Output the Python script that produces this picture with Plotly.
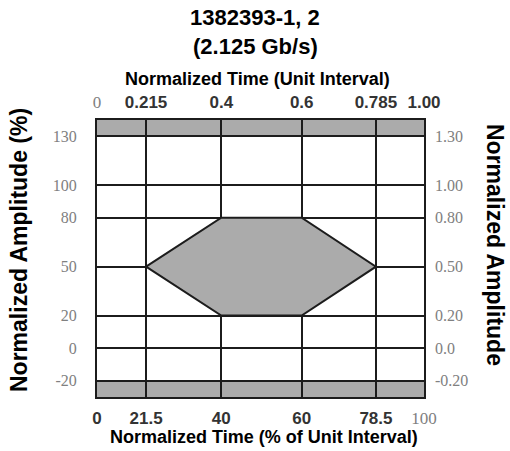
import numpy as np
import plotly.graph_objects as go

# ---- data ----
time_ticks = [0, 21.5, 40, 60, 78.5, 100]                 # % of unit interval
time_labels_bottom = ["0", "21.5", "40", "60", "78.5", "100"]
ui_labels_top = ["0", "0.215", "0.4", "0.6", "0.785", "1.00"]
amp_ticks = [130, 100, 80, 50, 20, 0, -20]                 # normalized amplitude (%)
amp_labels_left = ["130", "100", "80", "50", "20", "0", "-20"]
amp_labels_right = ["1.30", "1.00", "0.80", "0.50", "0.20", "0.0", "-0.20"]
mask_time = [21.5, 40, 60, 78.5, 60, 40]
mask_amp = [50, 80, 80, 50, 20, 20]
upper_limit = 130
lower_limit = -20

# ---- (not-to-scale) time scale of the drawing ----
X_BREAKS = [0, 21.5, 40, 60, 78.5, 100]
X_FRAC = [0, 0.15, 0.38, 0.626, 0.853, 1.0]


def xs(v):
    return np.interp(v, X_BREAKS, np.array(X_FRAC) * 100)


Y_RANGE = [-30, 140]
X_RANGE = [0, 100]

DARK = "#1c1c1c"
GRAY = "#ababab"
LABEL = "#333333"
LIGHT = "#808080"
SERIF = "Liberation Serif, Times New Roman, serif"
SANS = "Liberation Sans, Arial, sans-serif"


def bold(t):
    return f"<b>{t}</b>"


def serif(t):
    return f"<span style='font-family:{SERIF};font-weight:normal;color:{LIGHT}'>{t}</span>"


bottom_text = [bold(t) for t in time_labels_bottom]
bottom_text[-1] = serif(time_labels_bottom[-1])
top_text = [bold(t) for t in ui_labels_top]
top_text[0] = serif(ui_labels_top[0])

fig = go.Figure()

# mask polygon
fig.add_trace(go.Scatter(
    x=list(xs(mask_time + mask_time[:1])),
    y=mask_amp + mask_amp[:1],
    mode="lines", fill="toself", fillcolor=GRAY,
    line=dict(color=DARK, width=2), hoverinfo="skip", showlegend=False,
))
# invisible trace for secondary axes
fig.add_trace(go.Scatter(x=[X_RANGE[0]], y=[Y_RANGE[0]], xaxis="x2", yaxis="y2",
                         mode="markers", marker=dict(opacity=0), showlegend=False,
                         hoverinfo="skip"))

# limit bands
for y0, y1 in [(upper_limit, Y_RANGE[1]), (Y_RANGE[0], lower_limit)]:
    fig.add_shape(type="rect", xref="x", yref="y", x0=X_RANGE[0], x1=X_RANGE[1],
                  y0=y0, y1=y1, fillcolor=GRAY, line=dict(width=0), layer="below")

xt = list(xs(time_ticks))

fig.update_layout(
    width=510, height=451,
    margin=dict(l=97, r=86, t=120, b=54),
    paper_bgcolor="white", plot_bgcolor="white",
    showlegend=False,
    xaxis=dict(range=X_RANGE, tickmode="array", tickvals=xt, ticktext=bottom_text,
               showgrid=True, gridcolor=DARK, gridwidth=2, zeroline=False,
               showline=True, mirror=True, linecolor=DARK, linewidth=2,
               ticks="", ticklabelstandoff=5,
               tickfont=dict(family=SANS, size=17, color=LABEL)),
    xaxis2=dict(range=X_RANGE, overlaying="x", side="top", tickmode="array",
                tickvals=xt, ticktext=top_text, showgrid=False, zeroline=False,
                showline=False, ticks="", ticklabelstandoff=8,
                tickfont=dict(family=SANS, size=17, color=LABEL)),
    yaxis=dict(range=Y_RANGE, tickmode="array", tickvals=amp_ticks, ticktext=amp_labels_left,
               showgrid=True, gridcolor=DARK, gridwidth=2, zeroline=False,
               showline=True, mirror=True, linecolor=DARK, linewidth=2,
               ticks="", ticklabelstandoff=15,
               tickfont=dict(family=SERIF, size=16, color=LIGHT)),
    yaxis2=dict(range=Y_RANGE, overlaying="y", side="right", tickmode="array",
                tickvals=amp_ticks, ticktext=amp_labels_right, showgrid=False,
                zeroline=False, showline=False, ticks="", ticklabelstandoff=10,
                tickfont=dict(family=SERIF, size=16, color=LIGHT)),
)

W, H = 327.0, 277.0  # plot area in px (from margins)


def px(xp):
    return (xp - 97) / W


def py(yp):
    return (397 - yp) / H


ann_font = dict(family=SANS, color="black", weight="bold")
fig.add_annotation(text="1382393-1, 2", xref="paper", yref="paper",
                   x=px(255), y=py(17), showarrow=False, xanchor="center", yanchor="middle",
                   font=dict(size=22, **ann_font))
fig.add_annotation(text="(2.125 Gb/s)", xref="paper", yref="paper",
                   x=px(255), y=py(46), showarrow=False, xanchor="center", yanchor="middle",
                   font=dict(size=22, **ann_font))
fig.add_annotation(text="Normalized Time (Unit Interval)", xref="paper", yref="paper",
                   x=px(257), y=py(79), showarrow=False, xanchor="center", yanchor="middle",
                   font=dict(size=18, **ann_font))
fig.add_annotation(text="Normalized Time (% of Unit Interval)", xref="paper", yref="paper",
                   x=px(264), y=py(437), showarrow=False, xanchor="center", yanchor="middle",
                   font=dict(size=18, **ann_font))
fig.add_annotation(text="Normalized Amplitude (%)", xref="paper", yref="paper",
                   x=px(19), y=py(250), showarrow=False, textangle=-90,
                   xanchor="center", yanchor="middle", font=dict(size=23, **ann_font))
fig.add_annotation(text="Normalized Amplitude", xref="paper", yref="paper",
                   x=px(495), y=py(245), showarrow=False, textangle=90,
                   xanchor="center", yanchor="middle", font=dict(size=23, **ann_font))

fig.write_html("out.html", config={"displayModeBar": False},
               post_script="document.body.style.margin='0';document.body.style.padding='0';")
